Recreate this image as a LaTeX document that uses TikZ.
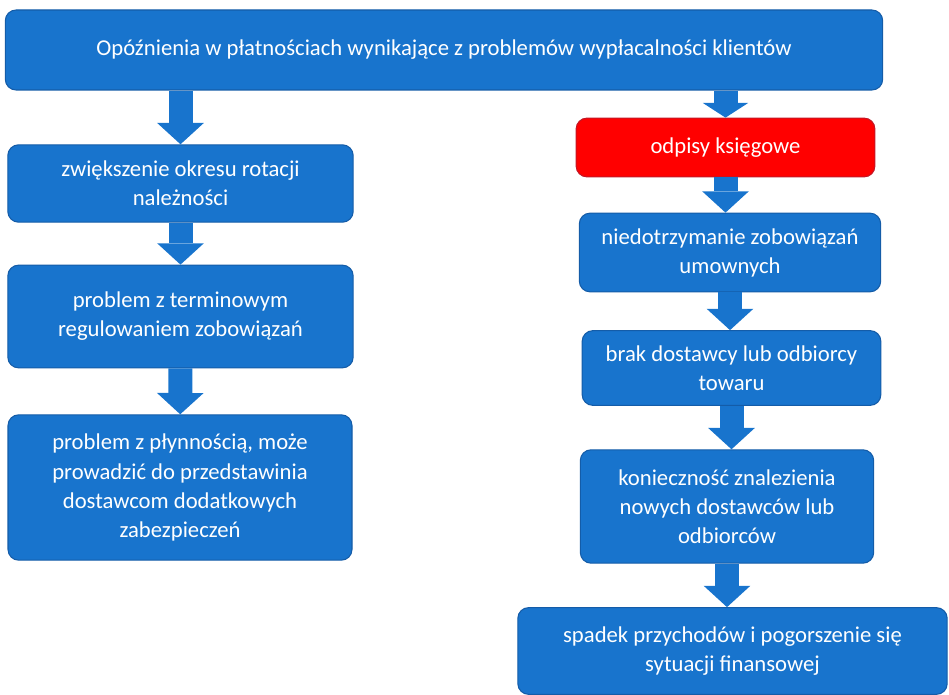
\documentclass[tikz,border=0pt]{standalone}
\usepackage{fontspec}
\setmainfont{Carlito}
\usetikzlibrary{arrows.meta}
\definecolor{boxblue}{RGB}{24,116,205}
\definecolor{boxedge}{RGB}{20,92,168}
\definecolor{boxred}{RGB}{255,0,0}
\definecolor{rededge}{RGB}{196,22,36}
\tikzset{
  stage/.style={draw=boxedge, fill=boxblue, rounded corners=8pt, line width=0.8pt,
    text=white, align=center, inner sep=0pt, font=\fontsize{17}{21.8}\selectfont},
  alarm/.style={stage, draw=rededge, fill=boxred},
  flow/.style={draw=boxblue, line width=18pt,
    -{Triangle[length=16pt,width=35pt,line width=0pt]}},
  shortflow/.style={flow, -{Triangle[length=11pt,width=34pt,line width=0pt]}}
}
\begin{document}
\begin{tikzpicture}[x=0.75pt,y=-0.75pt]
\useasboundingbox (0,0) rectangle (949,695);
% top cause
\node[stage, minimum width=658pt, minimum height=60pt] (cause) at (444,50)
  {Opóźnienia w płatnościach wynikające z problemów wypłacalności klientów};
% left column
\node[stage, minimum width=259pt, minimum height=58pt] (rotacja) at (180.5,183.5)
  {zwiększenie okresu rotacji\\należności};
\node[stage, minimum width=259pt, minimum height=77pt] (termin) at (180.5,316.5)
  {problem z terminowym\\regulowaniem zobowiązań};
\node[stage, minimum width=258pt, minimum height=109pt] (plynnosc) at (180,487.5)
  {problem z płynnością, może\\prowadzić do przedstawinia\\dostawcom dodatkowych\\zabezpieczeń};
% right column
\node[alarm, minimum width=224pt, minimum height=44pt] (odpisy) at (725.5,147.5)
  {odpisy księgowe};
\node[stage, minimum width=226pt, minimum height=59pt] (umowy) at (730,252.5)
  {niedotrzymanie zobowiązań\\umownych};
\node[stage, minimum width=224pt, minimum height=56pt] (brak) at (731.5,368)
  {brak dostawcy lub odbiorcy\\towaru};
\node[stage, minimum width=220pt, minimum height=85pt] (nowi) at (727,506.5)
  {konieczność znalezienia\\nowych dostawców lub\\odbiorców};
\node[stage, minimum width=322pt, minimum height=65pt] (spadek) at (732.5,651)
  {spadek przychodów i pogorszenie się\\sytuacji finansowej};
% arrows
\draw[flow] (cause.south -| rotacja.north) -- (rotacja.north);
\draw[flow] (rotacja) -- (termin);
\draw[flow] (termin) -- (plynnosc);
\draw[shortflow] (cause.south -| odpisy.north) -- (odpisy.north);
\draw[flow] (odpisy.south) -- (odpisy.south |- umowy.north);
\draw[flow] (umowy.south) -- (umowy.south |- brak.north);
\draw[flow] (brak.south) -- (brak.south |- nowi.north);
\draw[flow] (nowi.south) -- (nowi.south |- spadek.north);
\end{tikzpicture}
\end{document}
